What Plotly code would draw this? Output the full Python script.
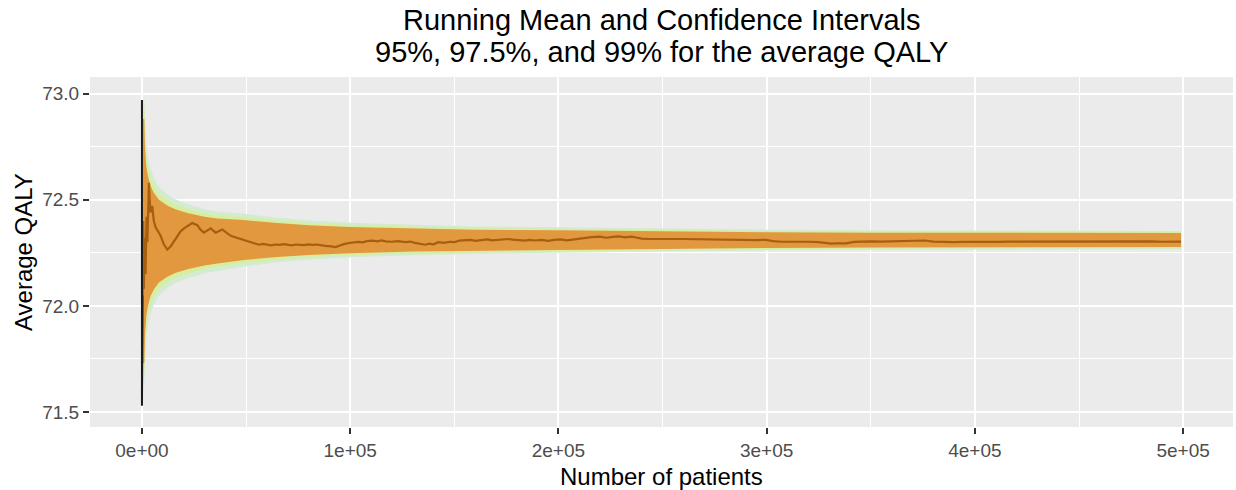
import plotly.graph_objects as go

# Patient counts at which the confidence bounds are evaluated
n_pts = [300, 1150, 1440, 2080, 2880, 4160, 5760, 8160, 12170, 16000, 21800,
         30000, 36200, 49000, 65000, 80000, 100000, 130000, 160000, 200000,
         250000, 300000, 350000, 400000, 450000, 499000]

ci95_upper = [72.880, 72.880, 72.750, 72.657, 72.610, 72.563, 72.532, 72.500,
              72.473, 72.455, 72.438, 72.420, 72.411, 72.404, 72.390, 72.380,
              72.372, 72.364, 72.359, 72.356, 72.351, 72.347, 72.345, 72.344,
              72.343, 72.343]
ci95_lower = [71.730, 71.730, 71.860, 71.953, 72.000, 72.047, 72.078, 72.110,
              72.137, 72.155, 72.172, 72.190, 72.199, 72.216, 72.230, 72.240,
              72.248, 72.256, 72.261, 72.264, 72.269, 72.273, 72.275, 72.276,
              72.277, 72.277]

ci975_upper = [72.925, 72.925, 72.814, 72.707, 72.654, 72.600, 72.564, 72.528,
               72.497, 72.476, 72.457, 72.436, 72.426, 72.417, 72.401, 72.390,
               72.381, 72.372, 72.366, 72.363, 72.357, 72.352, 72.350, 72.349,
               72.348, 72.348]
ci975_lower = [71.685, 71.685, 71.796, 71.903, 71.956, 72.010, 72.046, 72.082,
               72.113, 72.134, 72.153, 72.174, 72.184, 72.203, 72.219, 72.230,
               72.239, 72.248, 72.254, 72.257, 72.263, 72.268, 72.270, 72.271,
               72.272, 72.272]

ci99_upper = [72.970, 72.970, 72.890, 72.768, 72.706, 72.644, 72.603, 72.561,
              72.526, 72.502, 72.480, 72.456, 72.444, 72.434, 72.415, 72.402,
              72.391, 72.381, 72.374, 72.370, 72.364, 72.359, 72.356, 72.355,
              72.353, 72.353]
ci99_lower = [71.640, 71.640, 71.720, 71.842, 71.904, 71.966, 72.007, 72.049,
              72.084, 72.108, 72.130, 72.154, 72.166, 72.186, 72.205, 72.218,
              72.229, 72.239, 72.246, 72.250, 72.256, 72.261, 72.264, 72.265,
              72.267, 72.267]

# Running mean of QALY
mean_n = [300, 600, 900, 1300, 1700, 2200, 2600, 3000, 3360, 3700,
          4160, 4960, 5700, 6560, 7800, 8960, 10500, 12170, 13770, 15400,
          16970, 18500, 20170, 22000, 24170, 26570, 28000, 29770, 31500, 32970,
          35400, 38570, 42600, 47400, 50000, 52000, 54000, 56200, 58000, 60000,
          62000, 64000, 66000, 68000, 70000, 72000, 74000, 76000, 78000, 80000,
          82000, 84000, 86000, 88000, 90000, 93000, 95000, 97000, 99500, 102000,
          104000, 106000, 108000, 110600, 113000, 115000, 117000, 120000, 123000, 126600,
          129000, 131000, 134000, 136000, 138000, 140000, 142400, 145000, 148000, 150000,
          152300, 155000, 158000, 160000, 163400, 166000, 168000, 171000, 174000, 176000,
          178000, 181000, 184000, 186000, 189000, 192000, 195000, 198000, 201000, 204000,
          207000, 210000, 213000, 216000, 220000, 223000, 226000, 229000, 232000, 235000,
          237300, 240000, 244000, 248000, 252000, 256000, 260000, 265000, 270000, 274000,
          278000, 282000, 286000, 290000, 295000, 299500, 303000, 307000, 311000, 315000,
          320000, 325000, 328000, 331000, 334000, 338000, 342000, 346000, 350000, 355000,
          360000, 364000, 368000, 372000, 376000, 380000, 385000, 390000, 395000, 400000,
          405000, 411000, 416000, 420000, 425000, 430000, 435000, 440000, 445000, 450000,
          455000, 460000, 465000, 470000, 475000, 480000, 485000, 490000, 495000, 499000]
mean_v = [72.05, 72.40, 72.08, 72.32, 72.15, 72.42, 72.30, 72.50, 72.58, 72.50,
          72.44, 72.47, 72.40, 72.37, 72.35, 72.33, 72.29, 72.265, 72.28, 72.305,
          72.33, 72.35, 72.365, 72.375, 72.39, 72.38, 72.36, 72.345, 72.355, 72.365,
          72.345, 72.36, 72.33, 72.316, 72.305, 72.300, 72.296, 72.288, 72.292, 72.288,
          72.285, 72.289, 72.287, 72.291, 72.288, 72.285, 72.289, 72.288, 72.286, 72.290,
          72.287, 72.289, 72.285, 72.283, 72.281, 72.277, 72.284, 72.291, 72.296, 72.298,
          72.301, 72.299, 72.305, 72.307, 72.304, 72.308, 72.304, 72.302, 72.305, 72.300,
          72.303, 72.297, 72.291, 72.288, 72.293, 72.290, 72.300, 72.297, 72.302, 72.300,
          72.307, 72.309, 72.311, 72.306, 72.311, 72.313, 72.309, 72.311, 72.315, 72.315,
          72.312, 72.311, 72.307, 72.311, 72.308, 72.311, 72.306, 72.311, 72.313, 72.309,
          72.313, 72.317, 72.322, 72.324, 72.326, 72.321, 72.325, 72.327, 72.323, 72.326,
          72.322, 72.317, 72.315, 72.316, 72.314, 72.315, 72.315, 72.314, 72.315, 72.312,
          72.311, 72.313, 72.311, 72.311, 72.310, 72.311, 72.305, 72.302, 72.303, 72.301,
          72.302, 72.300, 72.296, 72.293, 72.295, 72.294, 72.301, 72.304, 72.304, 72.303,
          72.305, 72.304, 72.308, 72.307, 72.308, 72.303, 72.301, 72.300, 72.302, 72.301,
          72.300, 72.301, 72.303, 72.303, 72.305, 72.303, 72.306, 72.306, 72.304, 72.303,
          72.304, 72.304, 72.306, 72.305, 72.303, 72.304, 72.304, 72.302, 72.303, 72.303]

# First few patients of the running mean (very volatile)
early_n = [1, 2, 4, 7, 12, 20, 35, 60, 100, 160, 230, 300]
early_v = [72.97, 71.53, 72.75, 71.80, 72.60, 71.95, 72.50, 72.05, 72.40, 72.10,
           72.35, 72.05]

x_ticks = [0, 100000, 200000, 300000, 400000, 500000]
x_labels = ["0e+00", "1e+05", "2e+05", "3e+05", "4e+05", "5e+05"]
y_ticks = [71.5, 72.0, 72.5, 73.0]
y_labels = ["71.5", "72.0", "72.5", "73.0"]

FONT = "Liberation Sans, Arial, sans-serif"

fig = go.Figure()


def add_band(upper, lower, color):
    fig.add_trace(go.Scatter(
        x=n_pts + n_pts[::-1],
        y=upper + lower[::-1],
        mode="lines", fill="toself", fillcolor=color,
        line=dict(width=0), hoverinfo="skip", showlegend=False,
    ))


add_band(ci99_upper, ci99_lower, "#D3EBCF")
add_band(ci975_upper, ci975_lower, "#D7EE9E")
add_band(ci95_upper, ci95_lower, "#E2983E")

fig.add_trace(go.Scatter(
    x=mean_n, y=mean_v, mode="lines",
    line=dict(color="#A65E0F", width=2.2), showlegend=False,
))
fig.add_trace(go.Scatter(
    x=early_n, y=early_v, mode="lines",
    line=dict(color="#1A1A1A", width=2), showlegend=False,
))

axis_common = dict(
    showgrid=True, gridcolor="white", gridwidth=2,
    zeroline=False, showline=False,
    ticks="outside", ticklen=6, tickwidth=1.5, tickcolor="#333333",
    tickfont=dict(family=FONT, size=19, color="#4D4D4D"),
)

fig.update_layout(
    width=1236, height=490,
    margin=dict(l=90, r=3, t=77, b=63),
    paper_bgcolor="white", plot_bgcolor="#EBEBEB",
    font=dict(family=FONT),
    showlegend=False,
    xaxis=dict(
        range=[-24950, 523950], tickmode="array",
        tickvals=x_ticks, ticktext=x_labels,
        minor=dict(tickmode="linear", tick0=0, dtick=50000, showgrid=True,
                   gridcolor="white", gridwidth=1, ticks=""),
        **axis_common,
    ),
    yaxis=dict(
        range=[71.4295, 73.078], tickmode="array",
        tickvals=y_ticks, ticktext=y_labels,
        minor=dict(tickmode="linear", tick0=71.5, dtick=0.25, showgrid=True,
                   gridcolor="white", gridwidth=1, ticks=""),
        **axis_common,
    ),
    annotations=[
        dict(text="Running Mean and Confidence Intervals", xref="paper", yref="paper",
             x=0.5, y=1, xanchor="center", yanchor="middle", yshift=57,
             showarrow=False, font=dict(family=FONT, size=29, color="black")),
        dict(text="95%, 97.5%, and 99% for the average QALY", xref="paper", yref="paper",
             x=0.5, y=1, xanchor="center", yanchor="middle", yshift=25,
             showarrow=False, font=dict(family=FONT, size=29, color="black")),
        dict(text="Number of patients", xref="paper", yref="paper",
             x=0.5, y=0, xanchor="center", yanchor="middle", yshift=-49,
             showarrow=False, font=dict(family=FONT, size=24, color="black")),
        dict(text="Average QALY", xref="paper", yref="paper", textangle=-90,
             x=0, y=0.5, xanchor="center", yanchor="middle", xshift=-67,
             showarrow=False, font=dict(family=FONT, size=24, color="black")),
    ],
)

fig.write_html("out.html")
